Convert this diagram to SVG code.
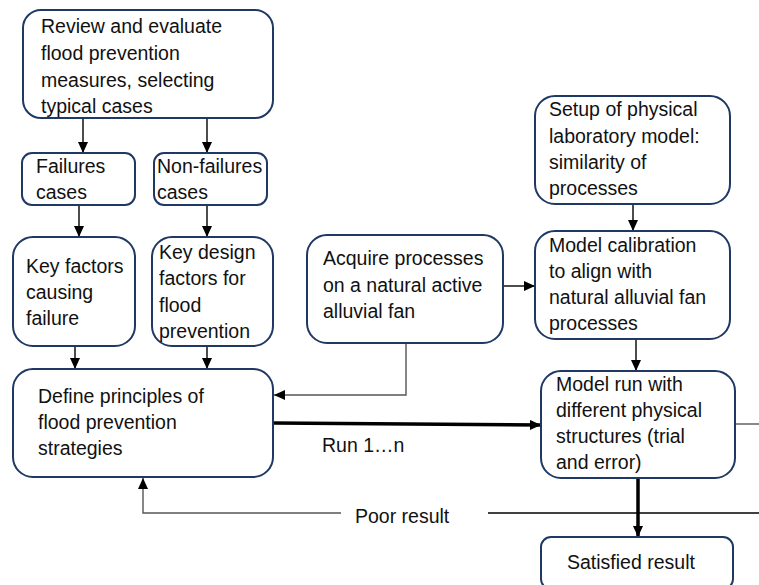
<svg xmlns="http://www.w3.org/2000/svg" width="759" height="585" viewBox="0 0 759 585">
<style>
.box{fill:#fff;stroke:#1f3864;stroke-width:2}
.t{font-family:"Liberation Sans",Arial,sans-serif;font-size:19.5px;fill:#111}
.c{fill:none;stroke:#000;stroke-width:1.4}
.g{fill:none;stroke:#555;stroke-width:1.4}
.k{fill:none;stroke:#000;stroke-width:3.5}
</style>
<defs>
<marker id="ah" viewBox="0 0 11 10" refX="11" refY="5" markerWidth="11" markerHeight="10" markerUnits="userSpaceOnUse" orient="auto"><path d="M0,0 L11,5 L0,10 z" fill="#000"/></marker>
</defs>
<rect width="759" height="585" fill="#fff"/>
<g id="connectors">
<path class="c" d="M83,118 V153" marker-end="url(#ah)"/>
<path class="c" d="M207,118 V153" marker-end="url(#ah)"/>
<path class="c" d="M79,205 V237" marker-end="url(#ah)"/>
<path class="c" d="M207,205 V237" marker-end="url(#ah)"/>
<path class="c" d="M75,346 V369" marker-end="url(#ah)"/>
<path class="c" d="M207,346 V369" marker-end="url(#ah)"/>
<path class="c" d="M503,286 H535" marker-end="url(#ah)"/>
<path class="g" d="M406,343 V395 H274" marker-end="url(#ah)"/>
<path class="c" d="M633,204 V231" marker-end="url(#ah)"/>
<path class="c" d="M636,339 V371" marker-end="url(#ah)"/>
<path class="k" d="M273,423 L541,425" marker-end="url(#ah)"/>
<path class="k" d="M638,478 V537" marker-end="url(#ah)"/>
<path class="c" d="M759,513 H488"/>
<path class="g" d="M341,513 H143 V478" marker-end="url(#ah)"/>
<path class="g" d="M735,424 H759"/>
<text class="t" x="322" y="452">Run 1…n</text>
<text class="t" x="355" y="523">Poor result</text>
</g>
<g id="review">
<rect class="box" x="23" y="10" width="250" height="108" rx="18"/>
<text class="t" x="41" y="33">Review and evaluate</text>
<text class="t" x="41" y="60">flood prevention</text>
<text class="t" x="41" y="87">measures, selecting</text>
<text class="t" x="41" y="113">typical cases</text>
</g>
<g id="failures">
<rect class="box" x="22" y="153" width="113" height="52" rx="10"/>
<text class="t" x="36" y="173">Failures</text>
<text class="t" x="36" y="199">cases</text>
</g>
<g id="nonfailures">
<rect class="box" x="154" y="153" width="113" height="52" rx="10"/>
<text class="t" x="157" y="173">Non-failures</text>
<text class="t" x="157" y="199">cases</text>
</g>
<g id="keyfactors">
<rect class="box" x="13" y="237" width="122" height="109" rx="20"/>
<text class="t" x="26" y="273">Key factors</text>
<text class="t" x="26" y="299">causing</text>
<text class="t" x="26" y="325">failure</text>
</g>
<g id="keydesign">
<rect class="box" x="152" y="237" width="121" height="109" rx="20"/>
<text class="t" x="159" y="259">Key design</text>
<text class="t" x="159" y="285">factors for</text>
<text class="t" x="159" y="312">flood</text>
<text class="t" x="159" y="338">prevention</text>
</g>
<g id="define">
<rect class="box" x="13" y="369" width="260" height="108" rx="20"/>
<text class="t" x="38" y="403">Define principles of</text>
<text class="t" x="38" y="429">flood prevention</text>
<text class="t" x="38" y="455">strategies</text>
</g>
<g id="acquire">
<rect class="box" x="307" y="235" width="196" height="108" rx="20"/>
<text class="t" x="323" y="265">Acquire processes</text>
<text class="t" x="323" y="292">on a natural active</text>
<text class="t" x="323" y="318">alluvial fan</text>
</g>
<g id="setup">
<rect class="box" x="535" y="96" width="195" height="108" rx="20"/>
<text class="t" x="549" y="116">Setup of physical</text>
<text class="t" x="549" y="143">laboratory model:</text>
<text class="t" x="549" y="169">similarity of</text>
<text class="t" x="549" y="195">processes</text>
</g>
<g id="calibration">
<rect class="box" x="535" y="231" width="195" height="108" rx="20"/>
<text class="t" x="549" y="252">Model calibration</text>
<text class="t" x="549" y="278">to align with</text>
<text class="t" x="549" y="304">natural alluvial fan</text>
<text class="t" x="549" y="330">processes</text>
</g>
<g id="modelrun">
<rect class="box" x="541" y="371" width="194" height="107" rx="20"/>
<text class="t" x="556" y="391">Model run with</text>
<text class="t" x="556" y="417">different physical</text>
<text class="t" x="556" y="443">structures (trial</text>
<text class="t" x="556" y="469">and error)</text>
</g>
<g id="satisfied">
<rect class="box" x="541" y="537" width="192" height="52" rx="10"/>
<text class="t" x="567" y="569">Satisfied result</text>
</g>
</svg>
